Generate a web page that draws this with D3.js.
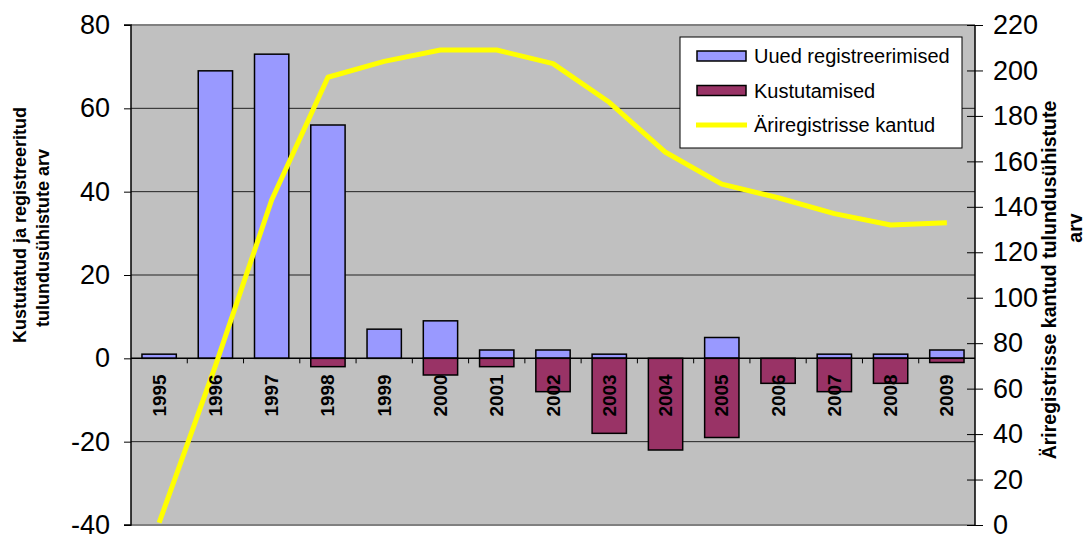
<!DOCTYPE html>
<html><head><meta charset="utf-8">
<script src="https://cdn.jsdelivr.net/npm/d3@7"></script>
<style>body{margin:0;background:#fff;}svg{display:block;font-family:"Liberation Sans",Arial,sans-serif;}</style>
</head><body>
<svg id="c" width="1086" height="535"></svg>
<script>
const years = ["1995","1996","1997","1998","1999","2000","2001","2002","2003","2004","2005","2006","2007","2008","2009"];
const newReg = [1,69,73,56,7,9,2,2,1,0,5,0,1,1,2];
const deleted = [0,0,0,-2,0,-4,-2,-8,-18,-22,-19,-6,-8,-6,-1];
const registry = [1,70,143,197,204,209,209,203,186,164,150,144,137,132,133];
const leftTicks = [-40,-20,0,20,40,60,80];
const rightTicks = [0,20,40,60,80,100,120,140,160,180,200,220];
const seriesNames = ["Uued registreerimised","Kustutamised","Äriregistrisse kantud"];

const svg = d3.select("#c");
const L=131, R=975, T=25, B=525;
const x = d3.scaleBand().domain(years).range([L,R]).paddingInner(0.39).paddingOuter(0.195);
const xs = d3.scaleBand().domain(years).range([L,R]);
const y = d3.scaleLinear().domain([-40,80]).range([B,T]);
const y2 = d3.scaleLinear().domain([0,220]).range([B,T]);
const fmt = d => String(d);

svg.append("rect").attr("x",L).attr("y",T).attr("width",R-L).attr("height",B-T).attr("fill","#C0C0C0");
// gridlines
svg.append("g").selectAll("line").data(leftTicks.filter(d=>d!==-40&&d!==0&&d!==80)).join("line")
  .attr("x1",L).attr("x2",R).attr("y1",d=>y(d)).attr("y2",d=>y(d)).attr("stroke","#222").attr("stroke-width",1);
svg.append("line").attr("x1",L).attr("x2",R).attr("y1",T).attr("y2",T).attr("stroke","#808080").attr("stroke-width",2);
svg.append("line").attr("x1",L).attr("x2",R).attr("y1",B).attr("y2",B).attr("stroke","#808080").attr("stroke-width",2);

// bars
svg.append("g").selectAll("rect").data(years).join("rect")
  .attr("x",d=>x(d)).attr("width",x.bandwidth())
  .attr("y",(d,i)=>y(newReg[i])).attr("height",(d,i)=>y(0)-y(newReg[i]))
  .attr("fill","#9999FF").attr("stroke","#000").attr("stroke-width",1.5)
  .attr("display",(d,i)=>newReg[i]===0?"none":null);
svg.append("g").selectAll("rect").data(years).join("rect")
  .attr("x",d=>x(d)).attr("width",x.bandwidth())
  .attr("y",y(0)).attr("height",(d,i)=>y(deleted[i])-y(0))
  .attr("fill","#993366").attr("stroke","#000").attr("stroke-width",1.5)
  .attr("display",(d,i)=>deleted[i]===0?"none":null);

// zero axis line with category ticks
svg.append("line").attr("x1",L).attr("x2",R).attr("y1",y(0)).attr("y2",y(0)).attr("stroke","#000").attr("stroke-width",1.5);
svg.append("g").selectAll("line").data(years.slice(1)).join("line")
  .attr("x1",d=>xs(d)).attr("x2",d=>xs(d)).attr("y1",y(0)).attr("y2",y(0)+5).attr("stroke","#000");

// line
svg.append("path").datum(registry)
  .attr("d",d3.line().x((d,i)=>xs(years[i])+xs.bandwidth()/2).y(d=>y2(d)))
  .attr("fill","none").attr("stroke","#FFFF00").attr("stroke-width",5).attr("stroke-linejoin","round");

// left axis
const gl = svg.append("g").attr("transform",`translate(${L},0)`)
  .call(d3.axisLeft(y).tickValues(leftTicks).tickSize(7).tickPadding(14).tickFormat(fmt));
gl.select(".domain").attr("stroke","#000").attr("stroke-width",1.5).attr("d",`M-7,${T}H0V${B}H-7`);
gl.selectAll("text").attr("font-size",27).attr("font-family","Liberation Sans, Arial").attr("fill","#000");
// right axis
const gr = svg.append("g").attr("transform",`translate(${R},0)`)
  .call(d3.axisRight(y2).tickValues(rightTicks).tickSize(8).tickPadding(10).tickFormat(fmt));
gr.select(".domain").attr("stroke","#000").attr("stroke-width",1.5).attr("d",`M0,${T}V${B}`);
gr.selectAll(".tick line").attr("x1",-8).attr("x2",8);
gr.selectAll("text").attr("font-size",27).attr("font-family","Liberation Sans, Arial").attr("fill","#000");

// category labels
svg.append("g").selectAll("text").data(years).join("text")
  .attr("transform",d=>`translate(${xs(d)+xs.bandwidth()/2},${y(0)+16}) rotate(-90)`)
  .attr("text-anchor","end").attr("dominant-baseline","central")
  .attr("font-size",19).attr("font-weight","bold").text(d=>d);

// axis titles
const lt = svg.append("g").attr("font-weight","bold").attr("font-size",18).attr("text-anchor","middle");
lt.append("text").attr("transform","translate(20,225) rotate(-90)").attr("dominant-baseline","central").text("Kustutatud ja registreeritud");
lt.append("text").attr("transform","translate(43,238) rotate(-90)").attr("dominant-baseline","central").text("tulundusühistute arv");
const rt = svg.append("g").attr("font-weight","bold").attr("font-size",19.5).attr("text-anchor","middle");
rt.append("text").attr("transform","translate(1049,280) rotate(-90)").attr("dominant-baseline","central").text("Äriregistrisse kantud tulundusühistute");
rt.append("text").attr("transform","translate(1075,228) rotate(-90)").attr("dominant-baseline","central").text("arv");

// legend
const lg = svg.append("g").attr("transform","translate(680,37)");
lg.append("rect").attr("width",282).attr("height",111).attr("fill","#fff").attr("stroke","#000").attr("stroke-width",1);
const colors = ["#9999FF","#993366"];
seriesNames.forEach((n,i)=>{
  const cy = 19 + i*34.5;
  if(i<2){
    lg.append("rect").attr("x",17).attr("y",cy-5).attr("width",49).attr("height",10).attr("fill",colors[i]).attr("stroke","#000").attr("stroke-width",1.5);
  } else {
    lg.append("line").attr("x1",16).attr("x2",67).attr("y1",cy).attr("y2",cy).attr("stroke","#FFFF00").attr("stroke-width",5);
  }
  lg.append("text").attr("x",74).attr("y",cy).attr("dominant-baseline","central").attr("font-size",20).text(n);
});
</script>
</body></html>
